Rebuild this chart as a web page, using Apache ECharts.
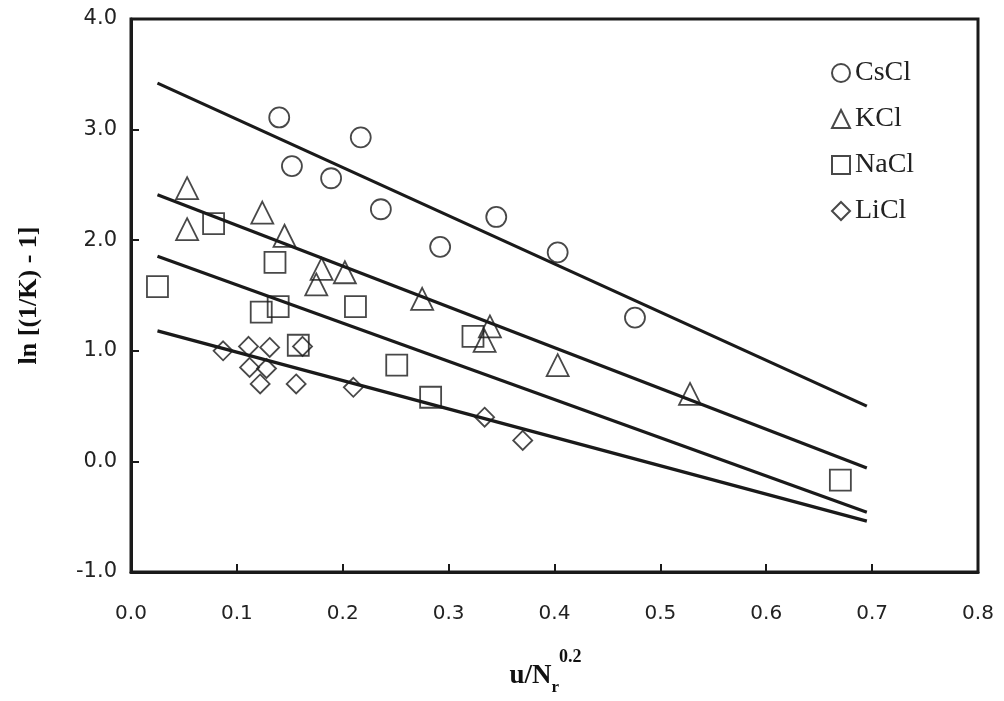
<!DOCTYPE html>
<html>
<head>
<meta charset="utf-8">
<script src="https://cdn.jsdelivr.net/npm/echarts@6/dist/echarts.min.js"></script>
<style>
html,body{margin:0;padding:0;background:#fff;}
#chart{width:1004px;height:701px;}
</style>
</head>
<body>
<div id="chart"></div>
<script>
// ---- data ----
var seriesNames = ['CsCl', 'KCl', 'NaCl', 'LiCl'];

var csclPoints = [[0.140, 3.11], [0.217, 2.93], [0.152, 2.67], [0.189, 2.56], [0.236, 2.28],
                  [0.292, 1.94], [0.345, 2.21], [0.403, 1.89], [0.476, 1.30]];
var kclPoints = [[0.053, 2.47], [0.053, 2.10], [0.124, 2.25], [0.145, 2.04], [0.180, 1.74],
                 [0.202, 1.71], [0.175, 1.60], [0.275, 1.47], [0.339, 1.22], [0.334, 1.09],
                 [0.403, 0.87], [0.528, 0.61]];
var naclPoints = [[0.078, 2.15], [0.136, 1.80], [0.025, 1.58], [0.123, 1.35], [0.139, 1.40],
                  [0.212, 1.40], [0.158, 1.05], [0.251, 0.87], [0.283, 0.58], [0.323, 1.13],
                  [0.670, -0.17]];
var liclPoints = [[0.087, 1.00], [0.111, 1.04], [0.131, 1.03], [0.112, 0.85], [0.128, 0.84],
                  [0.122, 0.70], [0.156, 0.70], [0.162, 1.04], [0.210, 0.67], [0.334, 0.40],
                  [0.370, 0.19]];

// fitted lines: [start, end]
var csclFit = [[0.025, 3.42], [0.695, 0.50]];
var kclFit  = [[0.025, 2.41], [0.695, -0.06]];
var naclFit = [[0.025, 1.855], [0.695, -0.46]];
var liclFit = [[0.025, 1.18], [0.695, -0.54]];

var xTicks = [0.0, 0.1, 0.2, 0.3, 0.4, 0.5, 0.6, 0.7, 0.8];
var yTicks = [-1.0, 0.0, 1.0, 2.0, 3.0, 4.0];

// ---- chart ----
var ink = '#1a1a1a';
function scatter(name, data, symbol, size) {
  return {
    name: name, type: 'scatter', data: data, symbol: symbol, symbolSize: size,
    itemStyle: { color: 'rgba(255,255,255,0)', borderColor: ink, borderWidth: 1.8 },
    z: 3
  };
}
function fit(name, data) {
  return {
    name: name, type: 'line', data: data, symbol: 'none', silent: true,
    lineStyle: { color: ink, width: 3.2 }, z: 4
  };
}

var chart = echarts.init(document.getElementById('chart'), null, { renderer: 'canvas' });
chart.setOption({
  animation: false,
  backgroundColor: '#ffffff',
  grid: { left: 131, right: 26, top: 19, bottom: 126, show: true, borderColor: ink, borderWidth: 3, backgroundColor: 'transparent' },
  xAxis: {
    type: 'value', min: xTicks[0], max: xTicks[xTicks.length - 1], interval: 0.1,
    axisLine: { show: true, onZero: false, lineStyle: { color: ink, width: 3 } },
    axisTick: { show: true, inside: true, length: 8, lineStyle: { color: ink, width: 2 } },
    splitLine: { show: false },
    axisLabel: { margin: 32, fontFamily: 'DejaVu Sans', fontSize: 20, color: '#222',
      formatter: function (v) { return v.toFixed(1); } },
    name: '{b|u/N}{sub|r}{sup|0.2}',
    nameLocation: 'middle', nameGap: 76,
    nameTextStyle: {
      padding: [0, 18, 0, 0],
      rich: {
        b: { fontFamily: 'Liberation Serif', fontWeight: 'bold', fontSize: 27, color: '#111', lineHeight: 42, verticalAlign: 'bottom' },
        sub: { fontFamily: 'Liberation Serif', fontWeight: 'bold', fontSize: 17, color: '#111', lineHeight: 42, verticalAlign: 'bottom', padding: [0, 0, -6, 0] },
        sup: { fontFamily: 'Liberation Serif', fontWeight: 'bold', fontSize: 18, color: '#111', lineHeight: 42, verticalAlign: 'top' }
      }
    }
  },
  yAxis: {
    type: 'value', min: yTicks[0], max: yTicks[yTicks.length - 1], interval: 1,
    axisLine: { show: true, onZero: false, lineStyle: { color: ink, width: 3 } },
    axisTick: { show: true, inside: true, length: 8, lineStyle: { color: ink, width: 2 } },
    splitLine: { show: false },
    axisLabel: { margin: 14, fontFamily: 'DejaVu Sans', fontSize: 21, color: '#222',
      formatter: function (v) { return v.toFixed(1); } },
    name: 'ln [(1/K) - 1]',
    nameLocation: 'middle', nameGap: 89, nameRotate: 90,
    nameTextStyle: { fontFamily: 'Liberation Serif', fontWeight: 'bold', fontSize: 26, color: '#111' }
  },
  legend: {
    data: seriesNames, orient: 'vertical', left: 826, top: 54,
    itemWidth: 18, itemHeight: 18, itemGap: 18,
    textStyle: { fontFamily: 'Liberation Serif', fontSize: 28, color: '#222', padding: [0, 0, 0, 0] },
    selectedMode: false
  },
  series: [
    scatter('CsCl', csclPoints, 'circle', 20),
    scatter('KCl', kclPoints, 'triangle', 22),
    scatter('NaCl', naclPoints, 'rect', 21),
    scatter('LiCl', liclPoints, 'diamond', 19),
    fit('CsCl fit', csclFit),
    fit('KCl fit', kclFit),
    fit('NaCl fit', naclFit),
    fit('LiCl fit', liclFit)
  ]
});
</script>
</body>
</html>
